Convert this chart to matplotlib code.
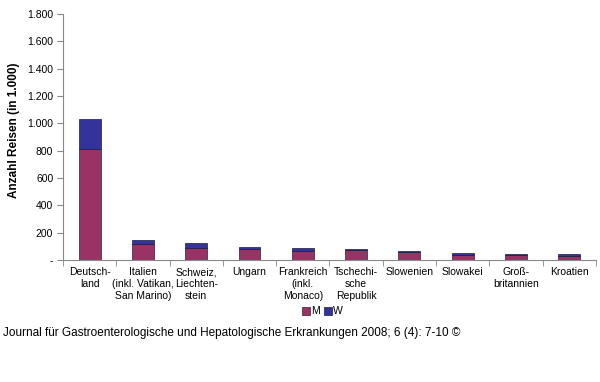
import matplotlib
matplotlib.use("Agg")
import matplotlib.pyplot as plt
import numpy as np

plt.rcParams['font.family'] = ['Liberation Sans', 'DejaVu Sans']

categories = ["Deutsch-\nland", "Italien\n(inkl. Vatikan,\nSan Marino)", "Schweiz,\nLiechten-\nstein",
              "Ungarn", "Frankreich\n(inkl.\nMonaco)", "Tschechi-\nsche\nRepublik", "Slowenien",
              "Slowakei", "Groß-\nbritannien", "Kroatien"]
m_values = [812, 117, 86, 84, 66, 75, 56, 34, 35, 33]
w_values = [222, 34, 36, 12, 22, 5, 12, 15, 9, 10]
yticks = [0, 200, 400, 600, 800, 1000, 1200, 1400, 1600, 1800]
ytick_labels = ["-", "200", "400", "600", "800", "1.000", "1.200", "1.400", "1.600", "1.800"]

fig = plt.figure(figsize=(6, 3.82), dpi=100)
ax = fig.add_axes([0.105, 0.319, 0.888, 0.644])

x = np.arange(len(categories))
c_m = '#993366'
c_w = '#333399'
ax.bar(x, m_values, width=0.41, color=c_m, edgecolor='#3a1a30', linewidth=0.5, label='M')
ax.bar(x, w_values, bottom=m_values, width=0.41, color=c_w, edgecolor='#1a1a40', linewidth=0.5, label='W')

ax.set_xlim(-0.5, len(categories) - 0.5)
ax.set_ylim(0, 1800)
ax.set_yticks(yticks)
ax.set_yticklabels(ytick_labels, fontsize=7.5)
ax.set_xticks(x)
ax.set_xticklabels(categories, fontsize=7.5, linespacing=1.22)
ax.tick_params(axis='x', length=0, pad=5)
ax.set_xticks(np.arange(-0.5, len(categories), 1), minor=True)
ax.tick_params(axis='x', which='minor', length=4, color='#888888', direction='out')
ax.tick_params(axis='y', length=4, color='#888888', direction='out', pad=3)

for s in ['top', 'right']:
    ax.spines[s].set_visible(False)
ax.spines['left'].set_color('#888888')
ax.spines['bottom'].set_color('#888888')

ax.set_ylabel("Anzahl Reisen (in 1.000)", fontsize=8.5, fontweight='bold')
ax.yaxis.set_label_coords(-0.080, 0.528)

fig.legend(loc='center', bbox_to_anchor=(0.537, 0.185), ncol=2, frameon=False, fontsize=7.5,
           handlelength=0.8, handleheight=0.8, handletextpad=0.1, columnspacing=0.35, borderpad=0)

fig.text(0.005, 0.128, "Journal für Gastroenterologische und Hepatologische Erkrankungen 2008; 6 (4): 7-10 ©",
         fontsize=8.5, ha='left', va='center')

fig.savefig("out.png", dpi=100)
